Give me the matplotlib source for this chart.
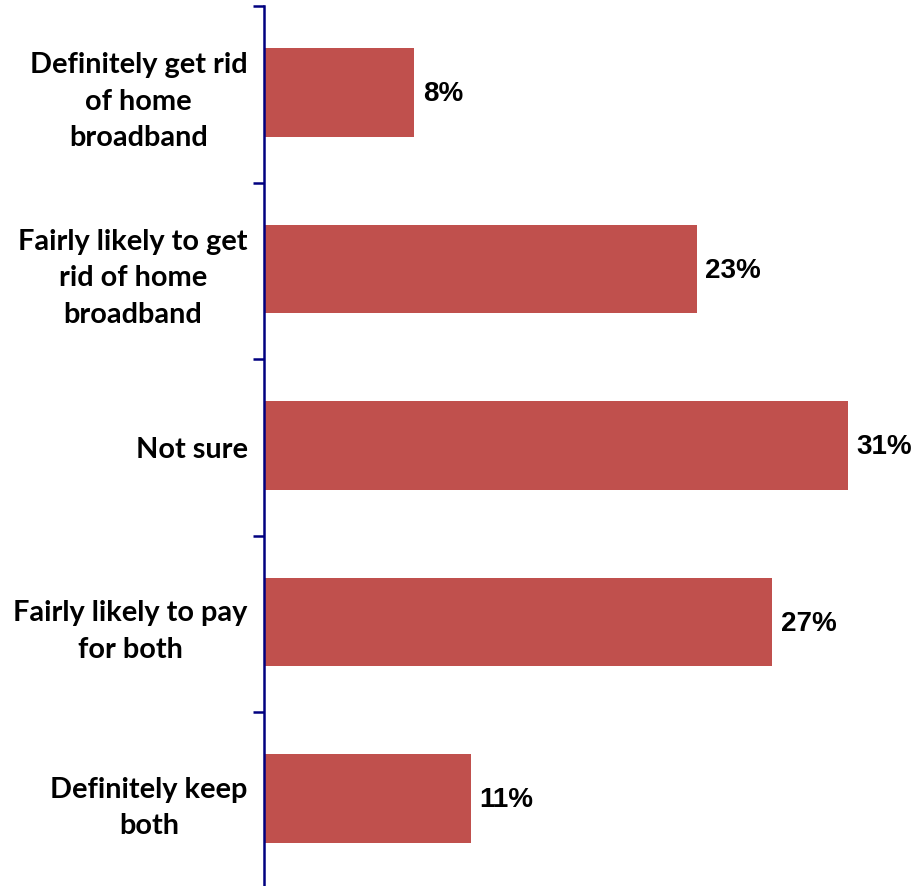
import numpy as np
import matplotlib.pyplot as plt

categories = ['Definitely get rid\nof home\nbroadband',
              'Fairly likely to get\nrid of home\nbroadband',
              'Not sure',
              'Fairly likely to pay\nfor both',
              'Definitely keep\nboth']
values = [8, 23, 31, 27, 11]

bar_color = '#C0504D'
axis_color = '#000080'

fig = plt.figure(figsize=(9.23, 8.86), dpi=100)
ax = fig.add_axes([263.5 / 923, -2.5 / 886, 1 - 263.5 / 923, 882.5 / 886])

y = np.arange(len(categories))
ax.barh(y - 0.01, values, height=0.5, color=bar_color, zorder=2)
ax.set_xlim(0, 35)
ax.set_ylim(len(categories) - 0.5, -0.5)

for yi, v in zip(y, values):
    ax.text(v + 0.45, yi, f'{v}%', va='center', ha='left',
            fontsize=20, fontweight='bold', family='Liberation Sans')

ax.set_yticks(y)
ax.set_yticklabels(categories, fontsize=20.8, fontweight='bold', family='Lato',
                   multialignment='center', linespacing=1.5)
ax.tick_params(axis='y', which='major', length=0, pad=11.5)
ax.set_yticks(np.arange(-0.5, len(categories) + 0.5, 1), minor=True)
ax.tick_params(axis='y', which='minor', length=8, width=1.8, color=axis_color)
ax.set_xticks([])

for s in ['top', 'right', 'bottom']:
    ax.spines[s].set_visible(False)
ax.spines['left'].set_color(axis_color)
ax.spines['left'].set_linewidth(1.8)

fig.savefig('out.png', dpi=100)
